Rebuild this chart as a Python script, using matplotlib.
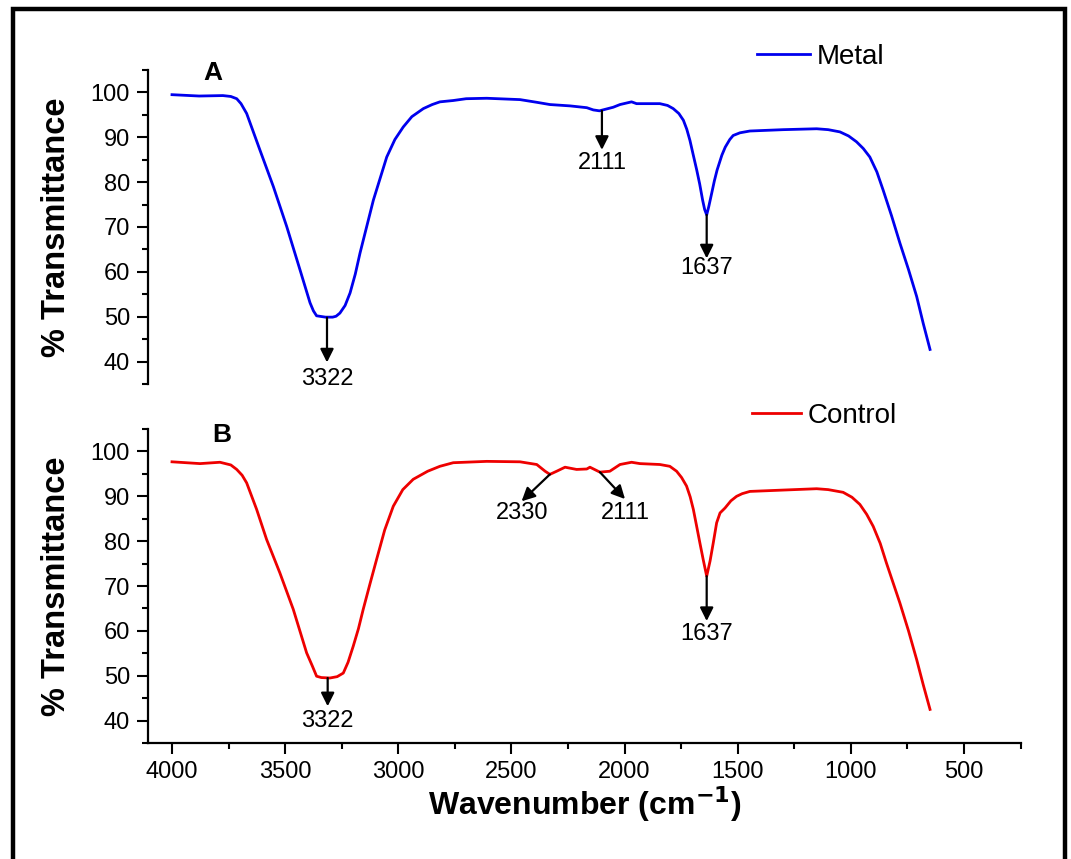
"""FTIR spectra: metal-treated vs control sample, two stacked panels."""
import matplotlib

matplotlib.use("Agg")
import matplotlib.pyplot as plt  # noqa: E402
from matplotlib.patches import Rectangle  # noqa: E402
from matplotlib.ticker import MultipleLocator  # noqa: E402

plt.rcParams["font.family"] = ["Liberation Sans", "DejaVu Sans"]

# values (wavenumber in cm-1, % transmittance)
metal_wn = [4000, 3880, 3775, 3740, 3714, 3695, 3670, 3611, 3552, 3493, 3434, 3390,
            3375, 3361, 3322, 3290, 3275, 3258, 3235, 3213, 3190, 3169, 3110, 3051,
            3015, 2978, 2940, 2889, 2850, 2816, 2757, 2700, 2609, 2462, 2388, 2330,
            2241, 2167, 2138, 2111, 2050, 2020, 1969, 1947, 1844, 1810, 1785, 1760,
            1740, 1725, 1711, 1697, 1681, 1668, 1655, 1646, 1637, 1628, 1615, 1603,
            1591, 1570, 1555, 1535, 1520, 1490, 1446, 1299, 1151, 1100, 1048, 1010,
            975, 945, 916, 885, 857, 820, 783, 745, 709, 680, 650]
metal_t = [99.5, 99.2, 99.3, 99.1, 98.6, 97.5, 95.3, 87.1, 79.0, 70.1, 60.4, 53.1,
           51.3, 50.2, 49.9, 49.9, 50.1, 50.8, 52.5, 55.3, 59.5, 64.2, 76.0, 85.6,
           89.5, 92.3, 94.6, 96.4, 97.3, 97.9, 98.2, 98.6, 98.7, 98.4, 97.8, 97.3,
           97.0, 96.6, 96.1, 95.9, 96.7, 97.3, 97.9, 97.5, 97.5, 97.1, 96.4, 95.3,
           93.8, 91.8, 89.3, 86.2, 82.7, 79.6, 76.0, 73.9, 72.7, 74.5, 77.5, 80.3,
           82.7, 86.0, 87.8, 89.5, 90.4, 91.0, 91.4, 91.7, 91.9, 91.7, 91.2, 90.3,
           89.0, 87.5, 85.6, 82.3, 78.2, 72.5, 66.4, 60.5, 54.5, 48.5, 42.7]

control_wn = [4000, 3876, 3788, 3740, 3714, 3690, 3670, 3626, 3582, 3523, 3464, 3405,
              3380, 3361, 3340, 3302, 3270, 3243, 3222, 3199, 3176, 3155, 3125, 3096,
              3060, 3022, 2980, 2934, 2870, 2816, 2757, 2609, 2462, 2388, 2351, 2330,
              2300, 2263, 2212, 2167, 2153, 2109, 2065, 2020, 1969, 1932, 1844, 1800,
              1770, 1748, 1726, 1710, 1696, 1682, 1667, 1652, 1637, 1622, 1608, 1593,
              1578, 1556, 1530, 1505, 1480, 1446, 1299, 1151, 1100, 1034, 995, 960,
              930, 901, 870, 843, 815, 783, 745, 709, 680, 650]
control_t = [97.7, 97.3, 97.6, 97.0, 96.0, 94.7, 93.0, 87.1, 80.4, 72.9, 64.8, 55.1,
             52.2, 49.9, 49.6, 49.5, 49.8, 50.6, 53.0, 56.6, 60.5, 64.8, 70.5, 75.9,
             82.5, 87.8, 91.5, 93.8, 95.6, 96.7, 97.5, 97.8, 97.7, 97.1, 95.6, 94.9,
             95.6, 96.5, 96.0, 96.1, 96.5, 95.4, 95.6, 97.1, 97.6, 97.3, 97.1, 96.7,
             95.6, 94.2, 92.3, 89.9, 87.1, 83.5, 79.6, 75.8, 72.2, 75.6, 79.6, 84.1,
             86.3, 87.4, 89.0, 90.0, 90.6, 91.1, 91.4, 91.7, 91.5, 90.9, 89.8, 88.2,
             86.0, 83.3, 79.5, 75.2, 71.0, 66.2, 60.0, 53.6, 48.0, 42.5]

# peak labels: (text, tail x, tail y, head x, head y, label x, label y)
metal_peaks = [("3322", 3315, 49.8, 3315, 39.8, 3315, 36.2),
               ("2111", 2100, 95.9, 2100, 87.2, 2100, 84.2),
               ("1637", 1637, 72.7, 1637, 63.0, 1637, 60.9)]
control_peaks = [("3322", 3312, 49.5, 3312, 43.2, 3312, 40.0),
                 ("2330", 2330, 94.9, 2455, 88.9, 2452, 86.3),
                 ("2111", 2109, 95.4, 1998, 89.4, 1995, 86.3),
                 ("1637", 1637, 72.2, 1637, 62.2, 1637, 59.2)]

XLIM = (4106, 248)
YLIM = (35, 105)


def style_axis(ax, show_x):
    ax.set_xlim(*XLIM)
    ax.set_ylim(*YLIM)
    for s in ("top", "right"):
        ax.spines[s].set_visible(False)
    ax.spines["left"].set_linewidth(1.6)
    ax.spines["bottom"].set_linewidth(1.6)
    ax.spines["bottom"].set_visible(show_x)
    ax.yaxis.set_major_locator(MultipleLocator(10))
    ax.yaxis.set_minor_locator(MultipleLocator(5))
    ax.xaxis.set_major_locator(MultipleLocator(500))
    ax.xaxis.set_minor_locator(MultipleLocator(250))
    ax.tick_params(which="major", direction="out", length=8, width=1.5, labelsize=17, pad=5)
    ax.tick_params(which="minor", direction="out", length=4.5, width=1.5)
    ax.tick_params(axis="x", which="both", bottom=show_x, labelbottom=show_x)
    ax.set_ylabel("% Transmittance", fontsize=23.5, fontweight="bold")
    ax.yaxis.set_label_coords(-0.087, 0.5)


def add_peaks(ax, peaks):
    for txt, x0, y0, x1, y1, tx, ty in peaks:
        ax.annotate("", xy=(x1, y1), xytext=(x0, y0),
                    arrowprops=dict(arrowstyle="-|>", color="black", lw=1.6,
                                    mutation_scale=20, shrinkA=0, shrinkB=0))
        ax.text(tx, ty, txt, ha="center", va="center", fontsize=17)


fig = plt.figure(figsize=(10.71, 8.59), dpi=100)
ax1 = fig.add_axes([0.1382, 0.5530, 0.8151, 0.3655])
ax2 = fig.add_axes([0.1382, 0.1350, 0.8151, 0.3655])

ax1.plot(metal_wn, metal_t, color="#0000ee", lw=2, label="Metal")
ax2.plot(control_wn, control_t, color="#ee0000", lw=2, label="Control")

style_axis(ax1, show_x=False)
style_axis(ax2, show_x=True)
add_peaks(ax1, metal_peaks)
add_peaks(ax2, control_peaks)

ax1.text(3819, 104.4, "A", ha="center", va="center", fontsize=19, fontweight="bold", clip_on=False)
ax2.text(3780, 103.6, "B", ha="center", va="center", fontsize=19, fontweight="bold", clip_on=False)

ax2.set_xlabel("Wavenumber (cm$^{\\mathbf{-1}}$)", fontsize=23, fontweight="bold")
ax2.xaxis.set_label_coords(0.5, -0.13)

for ax, anchor, hl in ((ax1, (757 / 1071, 1 - 57 / 859), 1.9), (ax2, (752 / 1071, 1 - 416 / 859), 1.75)):
    ax.legend(loc="center left", bbox_to_anchor=anchor, bbox_transform=fig.transFigure,
              frameon=False, fontsize=20, handlelength=hl, handletextpad=0.25,
              borderpad=0, borderaxespad=0)

# thick frame round the whole figure (bottom edge runs off the page)
fig.patches.append(Rectangle((13 / 1071, -0.05), (1065 - 13) / 1071, 0.9893 + 0.05,
                             transform=fig.transFigure, fill=False, lw=3.2,
                             ec="black", clip_on=False))

fig.savefig("out.png", dpi=100)
